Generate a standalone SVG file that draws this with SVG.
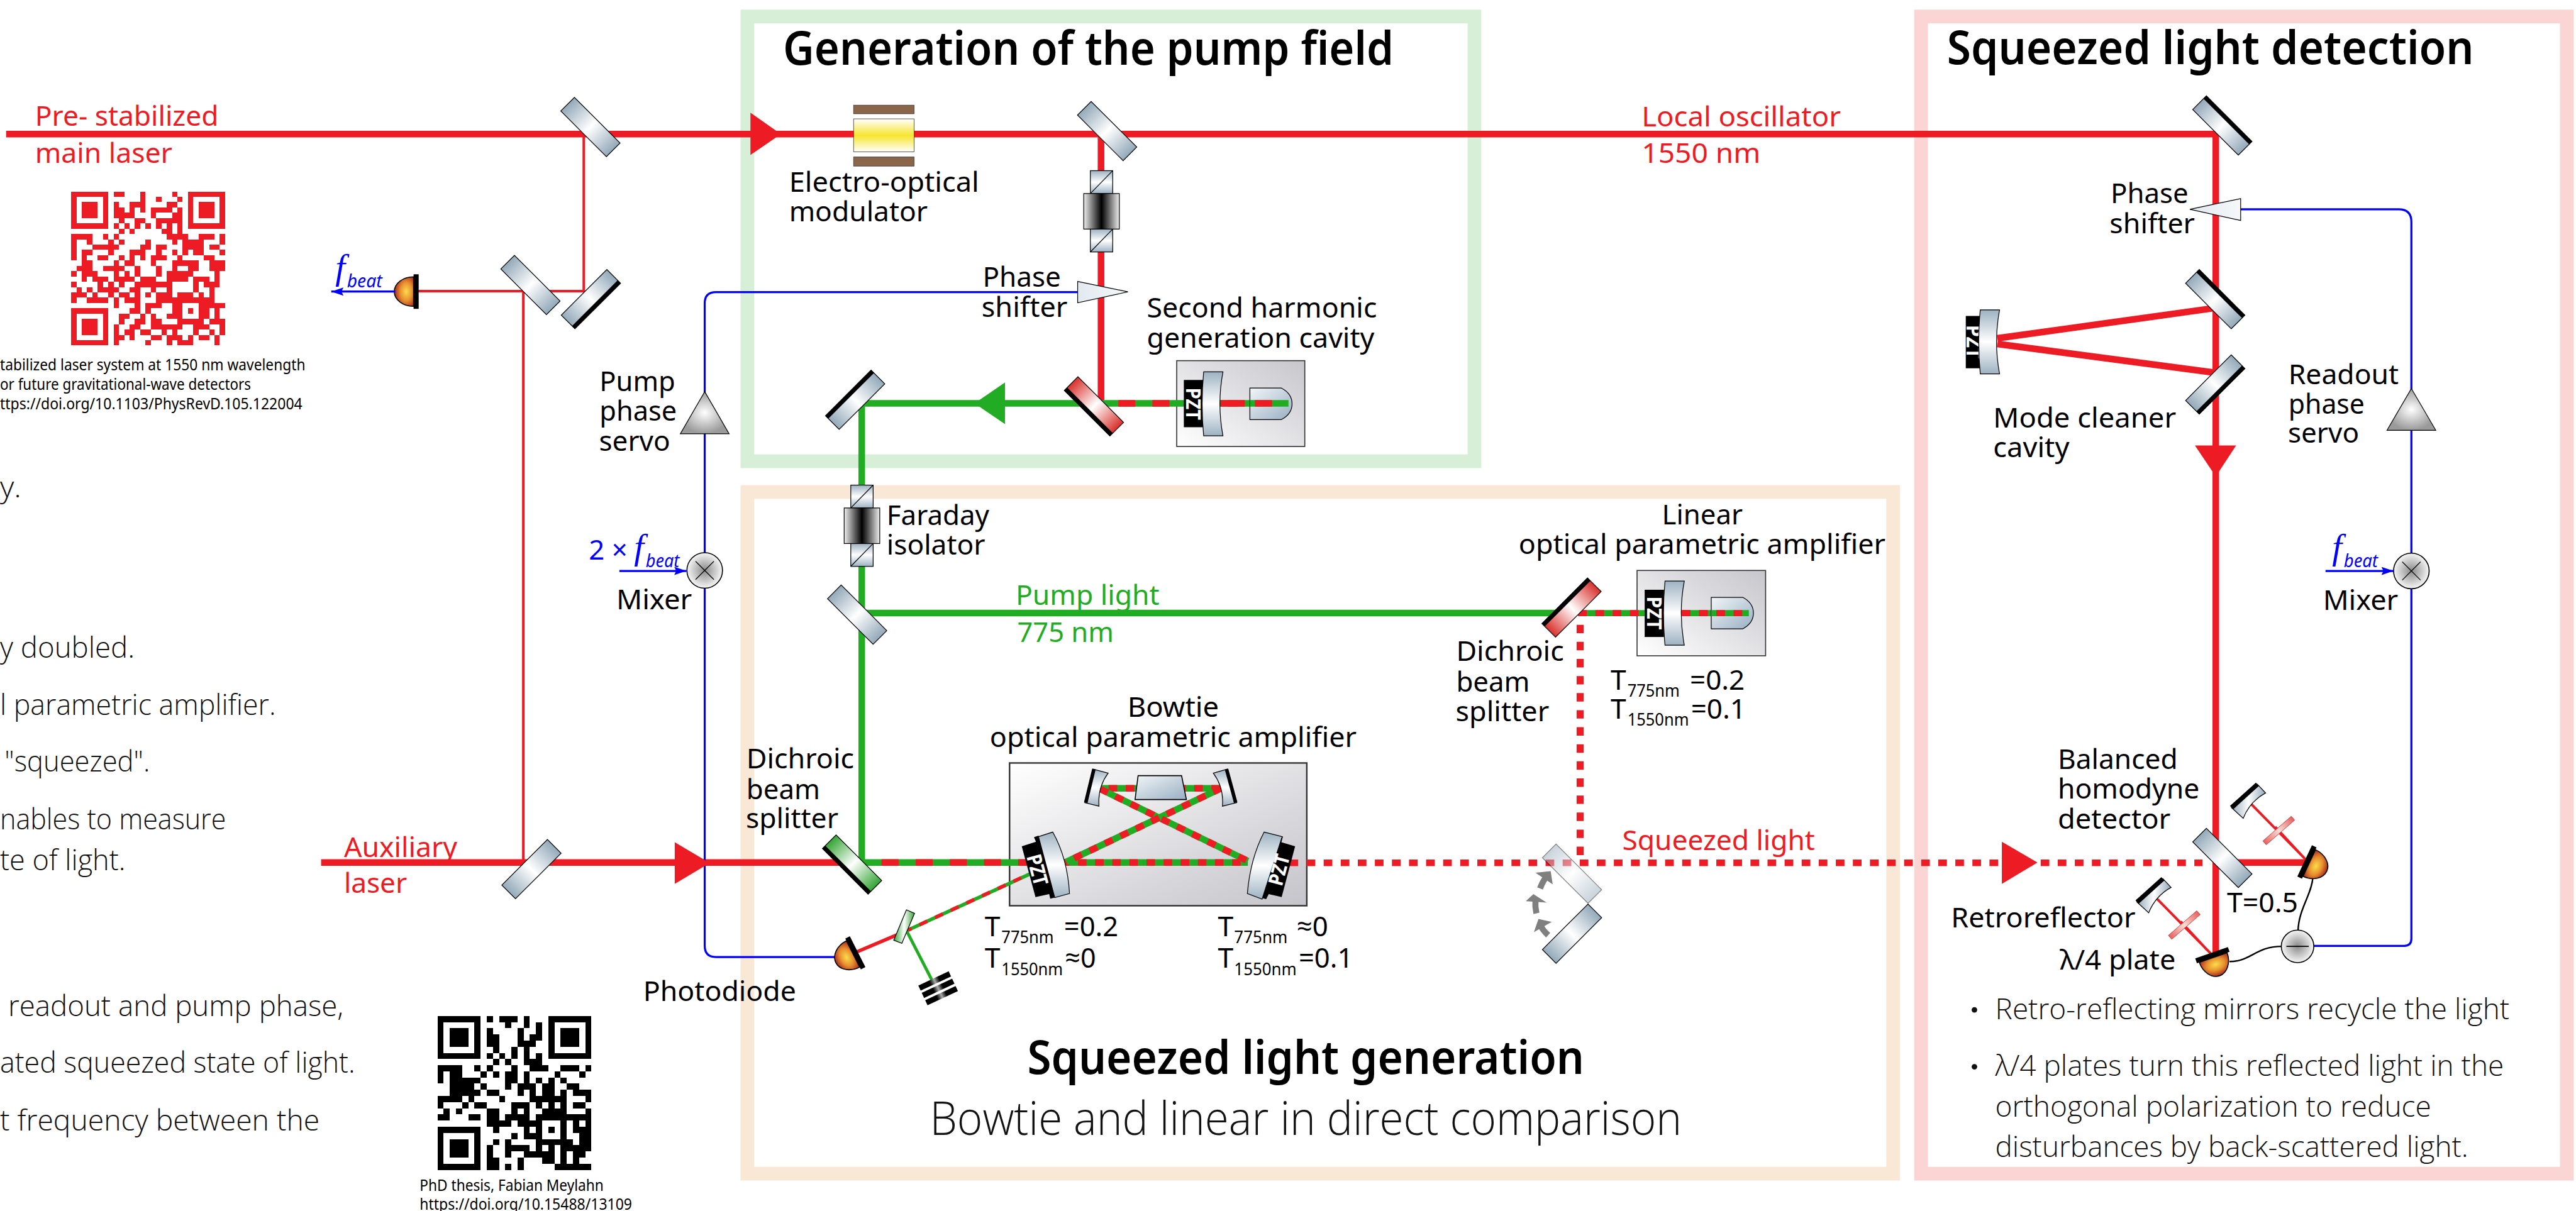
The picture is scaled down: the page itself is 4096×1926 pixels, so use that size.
<svg xmlns="http://www.w3.org/2000/svg" xmlns:xlink="http://www.w3.org/1999/xlink" width="4096" height="1926" viewBox="0 0 4096 1926">
<style>
text{font-family:"Noto Sans","Open Sans",sans-serif;font-size:55px;fill:#000;white-space:pre}
.rd{fill:#ed1c24}.bl{fill:#00f}.gn{fill:#22ac23}
.tt{font-size:91px;font-weight:600}
.lt{font-family:"Open Sans","Noto Sans",sans-serif;font-size:58px;font-weight:300;fill:#111}
.sm{font-size:31px}.sb{font-size:33px}
.pz{font-size:40px;font-weight:700;fill:#fff;text-anchor:middle}
.ff{font-family:"Liberation Serif",serif;font-style:italic;font-size:70px;fill:#00f}
.bt{font-style:italic;font-size:37px;fill:#00f}
.br{fill:none;stroke-linecap:butt}
.R{stroke:#ed1c24;stroke-width:13}.G{stroke:#22ac23;stroke-width:13}
.Rt{stroke:#ed1c24;stroke-width:5}.Gt{stroke:#22ac23;stroke-width:6}
.B{stroke:#00f;stroke-width:4;fill:none}
.ol{stroke:#000;stroke-width:1.5}
.frame{fill:none;stroke-width:27}
.qr{fill:none;stroke-width:1;shape-rendering:crispEdges}
.w{stroke:#000;stroke-width:3;fill:none}
</style>
<defs>
<linearGradient id="gM"><stop offset="0" stop-color="#93a9b9"/><stop offset=".5" stop-color="#fff"/><stop offset="1" stop-color="#93a9b9"/></linearGradient>
<linearGradient id="gMr"><stop offset="0" stop-color="#d8312c"/><stop offset=".5" stop-color="#fff"/><stop offset="1" stop-color="#d8312c"/></linearGradient>
<linearGradient id="gMg"><stop offset="0" stop-color="#35a535"/><stop offset=".5" stop-color="#fff"/><stop offset="1" stop-color="#35a535"/></linearGradient>
<linearGradient id="gC" x1="0" y1="0" x2="0" y2="1"><stop offset="0" stop-color="#9db2c2"/><stop offset=".5" stop-color="#fff"/><stop offset="1" stop-color="#9db2c2"/></linearGradient>
<linearGradient id="gX" x1="0" y1="0" x2="1" y2="1"><stop offset="0" stop-color="#f2f6f8"/><stop offset="1" stop-color="#98afc3"/></linearGradient>
<linearGradient id="gB1" x1="0" y1="1" x2="1" y2="0"><stop offset="0" stop-color="#fff"/><stop offset="1" stop-color="#c6c6cc"/></linearGradient>
<linearGradient id="gB2" x1="0" y1="0" x2="1" y2="1"><stop offset="0" stop-color="#fff"/><stop offset="1" stop-color="#c4c4ca"/></linearGradient>
<linearGradient id="gF"><stop offset="0" stop-color="#eee"/><stop offset=".5" stop-color="#000"/><stop offset="1" stop-color="#eee"/></linearGradient>
<linearGradient id="gE" x1="0" y1="0" x2="0" y2="1"><stop offset="0" stop-color="#fff"/><stop offset=".5" stop-color="#f6e52f"/><stop offset="1" stop-color="#fff"/></linearGradient>
<linearGradient id="gP"><stop offset="0" stop-color="#e9605f"/><stop offset=".5" stop-color="#fbdcd6"/><stop offset="1" stop-color="#e9605f"/></linearGradient>
<linearGradient id="gS"><stop offset="0" stop-color="#e2e9ef"/><stop offset="1" stop-color="#f6f8fa"/></linearGradient>
<linearGradient id="gD"><stop offset="0" stop-color="#000"/><stop offset=".35" stop-color="#000"/><stop offset=".5" stop-color="#aaa"/><stop offset=".65" stop-color="#000"/><stop offset="1" stop-color="#000"/></linearGradient>
<radialGradient id="gT"><stop offset="0" stop-color="#fff"/><stop offset="1" stop-color="#9a9a9a"/></radialGradient>
<radialGradient id="gO"><stop offset="0" stop-color="#8a8a8a"/><stop offset="1" stop-color="#f6f6f6"/></radialGradient>
<radialGradient id="gPD" cx=".62" cy=".5" r=".62"><stop offset="0" stop-color="#fbdc4c"/><stop offset=".5" stop-color="#e8912f"/><stop offset="1" stop-color="#a5241c"/></radialGradient>
<marker id="ah" markerUnits="userSpaceOnUse" markerWidth="26" markerHeight="20" refX="24" refY="10" orient="auto"><path d="M0 2L24 10L0 18L4 10Z" fill="#00f"/></marker>
<g id="mP"><rect x="-63.5" y="-19" width="127" height="38" fill="url(#gM)" stroke="#000" stroke-width="1.5"/></g>
<g id="mH"><rect x="-63.5" y="-19" width="127" height="38" fill="url(#gM)" stroke="#000" stroke-width="1.5"/><rect x="-63.5" y="-19" width="127" height="8"/></g>
<g id="mR"><rect x="-63.5" y="-19" width="127" height="38" fill="url(#gMr)" stroke="#000" stroke-width="1.5"/><rect x="-63.5" y="-19" width="127" height="8"/></g>
<g id="mG"><rect x="-63.5" y="-19" width="127" height="38" fill="url(#gMg)" stroke="#000" stroke-width="1.5"/><rect x="-63.5" y="-19" width="127" height="8"/></g>
<path id="cm" d="M-19-63H19Q7 0 19 63H-19Q-25 0-19-63Z" fill="url(#gC)" stroke="#000" stroke-width="1.5"/>
<path id="xt" d="M0-31H62Q83-20 83 0Q83 20 62 31H0Z" fill="url(#gX)" stroke="#000" stroke-width="1.5"/>
<g id="fi"><rect x="-22" y="-80" width="44" height="45" fill="url(#gC)" class="ol"/><path d="M-22-35L22-80" class="ol"/><rect x="-22" y="35" width="44" height="45" fill="url(#gC)" class="ol"/><path d="M-22 80L22 35" class="ol"/><rect x="-35" y="-35" width="70" height="70" fill="url(#gF)" class="ol"/></g>
<g id="pd"><path d="M0-29A38 29 0 0 0 0 29Z" fill="url(#gPD)" stroke="#000" stroke-width="2"/><rect x="0" y="-34" width="10" height="68"/></g>
<g id="mx"><circle r="35" fill="url(#gO)" stroke="#000" stroke-width="2"/><path d="M-18-18L18 18M18-18L-18 18" stroke="#000" stroke-width="1.5"/></g>
<g id="retro"><path d="M4392 1590L4443 1544L4459 1561Q4428 1578 4415 1611Z" fill="url(#gM)" class="ol"/><path d="M4392 1590L4443 1544" stroke="#000" stroke-width="9"/></g>
<g id="rtb"><path d="M4430 1582L4540 1694M4478 1628L4530 1684" fill="none" stroke="#ed1c24" stroke-width="5"/></g>
<rect id="pl" x="-37" y="-5" width="74" height="10" fill="url(#gP)" stroke="#b33" stroke-width="1"/>
</defs>
<rect width="4096" height="1926" fill="#fff"/>
<g transform="scale(.80789)">

<g id="frames">
<rect class="frame" x="1471" y="32.5" width="1431" height="875.5" stroke="#d7efd7"/>
<rect class="frame" x="1471" y="968.5" width="2255" height="1342" stroke="#fae8d7"/>
<rect class="frame" x="3781" y="32.5" width="1271" height="2278" stroke="#fbd4d4"/>
</g>

<g id="cavity-bases">
<rect x="2316" y="710" width="252" height="169" fill="url(#gB1)" stroke="#333" stroke-width="2"/>
<rect x="3222" y="1123" width="253" height="168" fill="url(#gB1)" stroke="#333" stroke-width="2"/>
<rect x="1987" y="1502" width="585" height="281" fill="url(#gB2)" stroke="#333" stroke-width="3"/>
</g>

<g id="connectors" class="br">
<path class="R" d="M12 264H4361V1890"/>
<path class="Rt" d="M1149 264V573H821M1030 573V1698"/>
<path class="R" d="M632 1698H1700"/>
<path class="R" d="M2167 264V794"/>
<path class="G" d="M2167 794H1696V1698"/>
<path class="G" d="M1694 1207H3093"/>
<path class="G" d="M2167 794H2536" />
<path class="R" stroke-dasharray="33.5 33.5" d="M2201 794H2536"/>
<path class="G" d="M1696 1698H2096H2456"/>
<path class="R" stroke-dasharray="33.6 33.6" d="M1735 1698H2060"/>
<path class="R" stroke-dasharray="16.8 16.9" d="M2088 1698H2456"/>
<path class="G" d="M2165 1552H2403"/>
<path class="R" stroke-dasharray="16.8 16.9" d="M2182 1552H2403"/>
<path class="G" d="M2165 1553L2456 1695"/>
<path class="G" d="M2403 1552L2096 1698"/>
<path class="R" stroke-dasharray="16.8 16.9" d="M2165 1553L2456 1695"/>
<path class="R" stroke-dasharray="16.8 16.9" d="M2403 1552L2096 1698"/>
<path class="G" style="stroke-width:7" d="M2028 1720L1785 1832"/>
<path class="R" style="stroke-width:7" stroke-dasharray="17 17" d="M2010 1728L1785 1832"/>
<path style="stroke:#ed1c24;stroke-width:7" d="M1785 1832L1686 1874"/>
<path class="Gt" d="M1780 1824L1835 1931"/>
<path class="G" style="stroke-width:12" d="M3106 1207H3442"/>
<path class="R" style="stroke-width:12" stroke-dasharray="17 17" d="M3106 1207H3442"/>
<path class="R" stroke-dasharray="17 16.6" d="M2538 1698.5H4335"/>
<path class="R" stroke-dasharray="16.6 17" style="stroke-width:14" d="M3110 1230V1699"/>
<path class="R" d="M4361 1698H4543"/>
<path class="R" d="M3931 666L4355 607M3931 677L4355 733"/>
<use href="#rtb"/><use href="#rtb" transform="translate(-186 186)"/>
<path class="B" d="M2121 575H1409Q1387 575 1387 597V1862Q1387 1884 1409 1884H1643"/>
<path class="B" d="M4410 412H4721Q4746 412 4746 437V1848Q4746 1862 4732 1862H4554"/>
<path class="w" d="M4552 1728C4550 1760 4524 1790 4523 1832"/>
<path class="w" d="M4388 1893C4430 1893 4440 1863 4491 1863"/>
</g>

<g id="arrows">
<polygon points="1477,222 1537,264 1477,305" fill="#ed1c24"/>
<polygon points="1328,1658 1397,1699 1328,1740" fill="#ed1c24"/>
<polygon points="3940,1657 4010,1698 3940,1740" fill="#ed1c24"/>
<polygon points="4320,877 4401,877 4361,938" fill="#ed1c24"/>
<polygon points="1978,753 1918,794 1978,835" fill="#22ac23"/>
</g>

<g id="pre-stabilized-laser"><text class="rd" x="69" y="248" textLength="361" lengthAdjust="spacingAndGlyphs">Pre- stabilized</text><text class="rd" x="69" y="320" textLength="270" lengthAdjust="spacingAndGlyphs">main laser</text></g>
<g id="local-oscillator"><text class="rd" x="3231" y="249" textLength="392" lengthAdjust="spacingAndGlyphs">Local oscillator</text><text class="rd" x="3231" y="320" textLength="234" lengthAdjust="spacingAndGlyphs">1550 nm</text></g>
<g id="auxiliary-laser"><text class="rd" x="677" y="1687" textLength="223" lengthAdjust="spacingAndGlyphs">Auxiliary</text><text class="rd" x="677" y="1758" textLength="124" lengthAdjust="spacingAndGlyphs">laser</text></g>
<g id="pump-light"><text class="gn" x="1999" y="1191" textLength="283" lengthAdjust="spacingAndGlyphs">Pump light</text><text class="gn" x="2002" y="1264" textLength="190" lengthAdjust="spacingAndGlyphs">775 nm</text></g>
<g id="squeezed-light"><text class="rd" x="3193" y="1674" textLength="379" lengthAdjust="spacingAndGlyphs">Squeezed light</text></g>

<g id="qr-red">
<g transform="translate(140 377) scale(10.45)">
<path fill="#ed1c24" fill-rule="evenodd" shape-rendering="crispEdges" d="M0 0h7v7h-7zM1 1h5v5h-5zM2 2h3v3h-3zM22 0h7v7h-7zM23 1h5v5h-5zM24 2h3v3h-3zM0 22h7v7h-7zM1 23h5v5h-5zM2 24h3v3h-3z"/>
<path class="qr" stroke="#ed1c24" d="M8 .5h2M13 .5h1M19 .5h1M13 1.5h1M16 1.5h1M20 1.5h1M8 2.5h1M11 2.5h3M18 2.5h2M8 3.5h2M11 3.5h1M13 3.5h1M15 3.5h4M20 3.5h1M8 4.5h4M15 4.5h1M19 4.5h2M9 5.5h1M12 5.5h2M16 5.5h5M8 6.5h1M10 6.5h1M12 6.5h1M14 6.5h1M16 6.5h1M18 6.5h1M20 6.5h1M9 7.5h1M11 7.5h1M17 7.5h2M20 7.5h1M0 8.5h4M6 8.5h1M8 8.5h1M18 8.5h4M24 8.5h3M28 8.5h1M0 9.5h1M3 9.5h1M7 9.5h1M9 9.5h1M14 9.5h1M19 9.5h1M21 9.5h4M28 9.5h1M0 10.5h1M4 10.5h5M13 10.5h2M16 10.5h2M21 10.5h4M26 10.5h2M0 11.5h1M2 11.5h2M7 11.5h1M11 11.5h3M16 11.5h1M19 11.5h1M21 11.5h1M23 11.5h2M28 11.5h1M0 12.5h1M2 12.5h1M5 12.5h2M9 12.5h1M11 12.5h1M13 12.5h1M15 12.5h3M20 12.5h1M25 12.5h2M2 13.5h2M8 13.5h1M10 13.5h2M15 13.5h1M19 13.5h5M26 13.5h3M1 14.5h3M6 14.5h4M12 14.5h1M16 14.5h1M19 14.5h1M22 14.5h2M26 14.5h3M0 15.5h1M2 15.5h3M8 15.5h1M10 15.5h1M12 15.5h1M16 15.5h1M18 15.5h5M27 15.5h1M2 16.5h1M4 16.5h3M8 16.5h4M13 16.5h3M18 16.5h4M23 16.5h3M27 16.5h1M0 17.5h1M5 17.5h1M7 17.5h1M9 17.5h1M12 17.5h7M23 17.5h1M25 17.5h3M1 18.5h1M3 18.5h1M5 18.5h4M11 18.5h2M15 18.5h1M18 18.5h1M23 18.5h1M26 18.5h1M0 19.5h3M4 19.5h1M7 19.5h1M9 19.5h2M12 19.5h1M14 19.5h1M16 19.5h3M20 19.5h3M24 19.5h1M26 19.5h1M0 20.5h1M3 20.5h4M8 20.5h1M10 20.5h3M16 20.5h11M8 21.5h1M12 21.5h1M14 21.5h3M19 21.5h2M24 21.5h5M11 22.5h2M14 22.5h1M19 22.5h2M22 22.5h1M24 22.5h2M27 22.5h1M9 23.5h2M13 23.5h1M15 23.5h1M18 23.5h3M24 23.5h2M27 23.5h1M9 24.5h1M12 24.5h2M15 24.5h2M20 24.5h5M26 24.5h3M8 25.5h1M11 25.5h2M15 25.5h6M23 25.5h3M28 25.5h1M8 26.5h1M10 26.5h2M13 26.5h2M17 26.5h1M19 26.5h1M23 26.5h1M26 26.5h1M28 26.5h1M8 27.5h2M11 27.5h1M15 27.5h2M18 27.5h3M22 27.5h1M24 27.5h2M27 27.5h1M8 28.5h1M14 28.5h1M18 28.5h1M20 28.5h3M27 28.5h1"/>
</g>
<text class="sm" x="0" y="729" textLength="601" lengthAdjust="spacingAndGlyphs">tabilized laser system at 1550 nm wavelength</text>
<text class="sm" x="0" y="767" textLength="494" lengthAdjust="spacingAndGlyphs">or future gravitational-wave detectors</text>
<text class="sm" x="0" y="806" textLength="595" lengthAdjust="spacingAndGlyphs">ttps://doi.org/10.1103/PhysRevD.105.122004</text>
</g>

<g id="qr-black">
<g transform="translate(861 2000) scale(12.12)">
<path fill="#000" fill-rule="evenodd" shape-rendering="crispEdges" d="M0 0h7v7h-7zM1 1h5v5h-5zM2 2h3v3h-3zM18 0h7v7h-7zM19 1h5v5h-5zM20 2h3v3h-3zM0 18h7v7h-7zM1 19h5v5h-5zM2 20h3v3h-3z"/>
<path class="qr" stroke="#000" d="M8 .5h1M10 .5h3M14 .5h1M11 1.5h1M14 1.5h1M16 1.5h1M8 2.5h1M13 2.5h1M16 2.5h1M8 3.5h2M13 3.5h1M15 3.5h2M8 4.5h2M13 4.5h3M9 5.5h1M12 5.5h1M14 5.5h1M8 6.5h1M10 6.5h1M12 6.5h1M14 6.5h1M16 6.5h1M9 7.5h1M11 7.5h1M14 7.5h3M0 8.5h4M6 8.5h1M8 8.5h1M12 8.5h1M15 8.5h3M20 8.5h3M24 8.5h1M0 9.5h1M2 9.5h2M7 9.5h1M9 9.5h1M11 9.5h2M14 9.5h1M19 9.5h1M23 9.5h1M0 10.5h1M2 10.5h5M11 10.5h2M14 10.5h1M16 10.5h1M18 10.5h1M20 10.5h1M2 11.5h4M7 11.5h1M11 11.5h1M13 11.5h3M17 11.5h2M21 11.5h2M2 12.5h5M8 12.5h2M13 12.5h1M15 12.5h1M17 12.5h2M20 12.5h1M22 12.5h3M0 13.5h4M5 13.5h1M10 13.5h1M15 13.5h6M24 13.5h1M0 14.5h1M4 14.5h1M6 14.5h2M12 14.5h3M16 14.5h1M18 14.5h1M20 14.5h1M22 14.5h2M1 15.5h1M3 15.5h1M8 15.5h2M12 15.5h1M14 15.5h1M17 15.5h4M24 15.5h1M0 16.5h2M5 16.5h2M8 16.5h2M11 16.5h4M16 16.5h9M8 17.5h4M13 17.5h4M20 17.5h1M22 17.5h1M24 17.5h1M9 18.5h1M14 18.5h1M16 18.5h1M18 18.5h1M20 18.5h1M22 18.5h3M12 19.5h1M14 19.5h3M20 19.5h1M23 19.5h2M9 20.5h1M11 20.5h1M16 20.5h6M23 20.5h2M8 21.5h1M11 21.5h4M16 21.5h1M18 21.5h1M20 21.5h5M8 22.5h1M11 22.5h1M14 22.5h5M20 22.5h1M22 22.5h2M8 23.5h2M13 23.5h1M17 23.5h2M20 23.5h1M22 23.5h1M8 24.5h2M11 24.5h1M13 24.5h1M19 24.5h6"/>
</g>
<text class="sm" x="826" y="2345" textLength="362" lengthAdjust="spacingAndGlyphs">PhD thesis, Fabian Meylahn</text>
<text class="sm" x="826" y="2381" textLength="418" lengthAdjust="spacingAndGlyphs">https://doi.org/10.15488/13109</text>
</g>

<g id="left-notes">
<text class="lt" x="0" y="979" textLength="42" lengthAdjust="spacingAndGlyphs">y.</text>
<text class="lt" x="0" y="1295" textLength="265" lengthAdjust="spacingAndGlyphs">y doubled.</text>
<text class="lt" x="0" y="1408" textLength="543" lengthAdjust="spacingAndGlyphs">l parametric amplifier.</text>
<text class="lt" x="9" y="1519" textLength="286" lengthAdjust="spacingAndGlyphs">"squeezed".</text>
<text class="lt" x="0" y="1633" textLength="445" lengthAdjust="spacingAndGlyphs">nables to measure</text>
<text class="lt" x="0" y="1713" textLength="247" lengthAdjust="spacingAndGlyphs">te of light.</text>
<text class="lt" x="16" y="2000" textLength="660" lengthAdjust="spacingAndGlyphs">readout and pump phase,</text>
<text class="lt" x="0" y="2112" textLength="699" lengthAdjust="spacingAndGlyphs">ated squeezed state of light.</text>
<text class="lt" x="0" y="2225" textLength="629" lengthAdjust="spacingAndGlyphs">t frequency between the</text>
</g>

<g id="titles">
<text class="tt" x="1541" y="127" textLength="1202" lengthAdjust="spacingAndGlyphs">Generation of the pump field</text>
<text class="tt" x="3832" y="126" textLength="1037" lengthAdjust="spacingAndGlyphs">Squeezed light detection</text>
<text class="tt" x="2022" y="2114" textLength="1096" lengthAdjust="spacingAndGlyphs">Squeezed light generation</text>
<text class="lt" style="font-size:91px" x="1830" y="2234" textLength="1480" lengthAdjust="spacingAndGlyphs">Bowtie and linear in direct comparison</text>
</g>

<g id="pickoff-optics">
<use href="#mP" transform="translate(1162 250) rotate(45)"/>
<use href="#mP" transform="translate(1044 561) rotate(45)"/>
<use href="#mH" transform="translate(1163 589) rotate(135)"/>
<use href="#mP" transform="translate(1046 1711) rotate(-45)"/>
</g>

<g id="beat-photodiode">
<use href="#pd" transform="translate(814 574)"/>
<path class="B" d="M778 574H652" marker-end="url(#ah)"/>
<text class="ff" x="660" y="549">f</text>
<text class="bt" x="683" y="566" textLength="69" lengthAdjust="spacingAndGlyphs">beat</text>
</g>

<g id="eom">
<rect x="1680" y="207" width="119" height="17" fill="#8a6549" stroke="#333" stroke-width="1"/>
<rect x="1680" y="234" width="119" height="65" fill="url(#gE)" stroke="#333" stroke-width="1"/>
<rect x="1680" y="309" width="119" height="18" fill="#8a6549" stroke="#333" stroke-width="1"/>
<text x="1553" y="377" textLength="374" lengthAdjust="spacingAndGlyphs">Electro-optical</text>
<text x="1553" y="436" textLength="273" lengthAdjust="spacingAndGlyphs">modulator</text>
</g>

<g id="shg-path">
<use href="#mP" transform="translate(2179 258) rotate(45)"/>
<use href="#fi" transform="translate(2168 416)"/>
<polygon points="2121,554 2220,574.5 2121,596" fill="url(#gS)" class="ol"/>
<text x="1934" y="565" textLength="154" lengthAdjust="spacingAndGlyphs">Phase</text>
<text x="1932" y="624" textLength="169" lengthAdjust="spacingAndGlyphs">shifter</text>
<use href="#mR" transform="translate(2153 800) rotate(225)"/>
<use href="#mH" transform="translate(1683 787) rotate(-45)"/>
</g>

<g id="shg-cavity">
<rect x="2330" y="748" width="38" height="93"/>
<text class="pz" transform="translate(2335 795) rotate(90)" textLength="64" lengthAdjust="spacingAndGlyphs">PZT</text>
<use href="#cm" transform="translate(2388 795)"/>
<use href="#xt" transform="translate(2460 795)"/>
<path class="G" d="M2460 794H2536"/><path class="R" stroke-dasharray="33.5 33.5" d="M2470 794H2536"/><path class="R" d="M2416 794H2450"/>
<text x="2257" y="625" textLength="453" lengthAdjust="spacingAndGlyphs">Second harmonic</text>
<text x="2257" y="684" textLength="448" lengthAdjust="spacingAndGlyphs">generation cavity</text>
</g>

<g id="pump-servo">
<polygon points="1387,771 1435,854 1339,854" fill="url(#gT)" class="ol"/>
<text x="1180" y="770" textLength="149" lengthAdjust="spacingAndGlyphs">Pump</text>
<text x="1180" y="828" textLength="152" lengthAdjust="spacingAndGlyphs">phase</text>
<text x="1179" y="887" textLength="140" lengthAdjust="spacingAndGlyphs">servo</text>
</g>

<g id="pump-mixer">
<use href="#mx" transform="translate(1387 1123)"/>
<path class="B" d="M1219 1124H1351" marker-end="url(#ah)"/>
<text class="bl" x="1159" y="1102" textLength="76" lengthAdjust="spacingAndGlyphs" xml:space="preserve">2 ×</text>
<text class="ff" x="1248" y="1100">f</text>
<text class="bt" x="1271" y="1117" textLength="66" lengthAdjust="spacingAndGlyphs">beat</text>
<text x="1213" y="1200" textLength="149" lengthAdjust="spacingAndGlyphs">Mixer</text>
</g>

<g id="faraday-isolator">
<use href="#fi" transform="translate(1696.5 1035)"/>
<text x="1745" y="1033" textLength="202" lengthAdjust="spacingAndGlyphs">Faraday</text>
<text x="1745" y="1092" textLength="194" lengthAdjust="spacingAndGlyphs">isolator</text>
</g>

<g id="pump-pickoff"><use href="#mP" transform="translate(1687 1210) rotate(45)"/></g>

<g id="dichroic-bowtie">
<use href="#mG" transform="translate(1677 1702) rotate(225)"/>
<text x="1469" y="1513" textLength="212" lengthAdjust="spacingAndGlyphs">Dichroic</text>
<text x="1469" y="1573" textLength="145" lengthAdjust="spacingAndGlyphs">beam</text>
<text x="1468" y="1630" textLength="182" lengthAdjust="spacingAndGlyphs">splitter</text>
</g>

<g id="bowtie-opa">
<path d="M2151 1514L2181 1522Q2160 1550 2163 1587L2135 1580Z" fill="url(#gC)" class="ol"/>
<path d="M2153 1514L2137 1580" stroke="#000" stroke-width="7"/>
<path d="M2416 1514L2388 1522Q2409 1550 2406 1587L2434 1580Z" fill="url(#gC)" class="ol"/>
<path d="M2414 1514L2432 1580" stroke="#000" stroke-width="7"/>
<polygon points="2240,1527 2325.5,1527 2335,1574 2234,1574" fill="url(#gX)" stroke="#000" stroke-width="2"/>
<polygon points="2035,1648 2044,1645 2076,1767 2067,1769 2065,1760 2038,1766 2011,1666 2039,1657"/>
<path d="M2044 1647L2072 1638Q2101 1690 2105 1759L2076 1767Z" fill="url(#gC)" class="ol"/>
<text class="pz" transform="translate(2028 1716) rotate(75)" textLength="62" lengthAdjust="spacingAndGlyphs">PZT</text>
<polygon points="2515,1645 2525,1647 2522,1658 2549,1666 2522.5,1766 2497,1760 2492,1770 2484,1768"/>
<path d="M2488 1638L2523.5 1647L2484 1770L2455 1759Q2461 1690 2488 1638Z" fill="url(#gC)" class="ol"/>
<text class="pz" transform="translate(2531 1716) rotate(-75)" textLength="62" lengthAdjust="spacingAndGlyphs">PZT</text>
<text x="2219" y="1411" textLength="180" lengthAdjust="spacingAndGlyphs">Bowtie</text>
<text x="1948" y="1471" textLength="722" lengthAdjust="spacingAndGlyphs">optical parametric amplifier</text>
<text x="1938" y="1843">T</text><text class="sb" x="1971" y="1857" textLength="103" lengthAdjust="spacingAndGlyphs">775nm</text><text x="2094" y="1843" textLength="107" lengthAdjust="spacingAndGlyphs">=0.2</text>
<text x="1938" y="1905">T</text><text class="sb" x="1971" y="1920" textLength="121" lengthAdjust="spacingAndGlyphs">1550nm</text><text x="2096" y="1905" textLength="61" lengthAdjust="spacingAndGlyphs">≈0</text>
<text x="2397" y="1843">T</text><text class="sb" x="2429" y="1857" textLength="105" lengthAdjust="spacingAndGlyphs">775nm</text><text x="2552" y="1843" textLength="62" lengthAdjust="spacingAndGlyphs">≈0</text>
<text x="2397" y="1905">T</text><text class="sb" x="2429" y="1920" textLength="123" lengthAdjust="spacingAndGlyphs">1550nm</text><text x="2556" y="1905" textLength="107" lengthAdjust="spacingAndGlyphs">=0.1</text>
</g>

<g id="photodiode">
<polygon points="1784,1791 1800,1798 1775,1857 1759,1851" fill="url(#gMg)" class="ol"/>
<use href="#pd" transform="translate(1679 1878) rotate(-26.8)"/>
<g transform="translate(1847 1947) rotate(-25)"><rect x="-33" y="-23" width="66" height="11" fill="url(#gD)"/><rect x="-33" y="-7" width="66" height="11" fill="url(#gD)"/><rect x="-33" y="9" width="66" height="11" fill="url(#gD)"/></g>
<text x="1266" y="1970" textLength="301" lengthAdjust="spacingAndGlyphs">Photodiode</text>
</g>

<g id="linear-opa">
<use href="#mR" transform="translate(3093 1196) rotate(-45)"/>
<rect x="3237" y="1161" width="38" height="93"/>
<text class="pz" transform="translate(3242 1207) rotate(90)" textLength="66" lengthAdjust="spacingAndGlyphs">PZT</text>
<use href="#cm" transform="translate(3296 1207)"/>
<use href="#xt" transform="translate(3368 1207)"/>
<path class="G" style="stroke-width:12" d="M3368 1207H3442"/>
<path class="R" style="stroke-width:12" stroke-dasharray="17 17" d="M3378 1207H3442"/>
<path class="R" style="stroke-width:12" stroke-dasharray="17 17" d="M3310 1207H3368"/>
<text x="3271" y="1032" textLength="159" lengthAdjust="spacingAndGlyphs">Linear</text>
<text x="2989" y="1091" textLength="722" lengthAdjust="spacingAndGlyphs">optical parametric amplifier</text>
<text x="2866" y="1301" textLength="212" lengthAdjust="spacingAndGlyphs">Dichroic</text>
<text x="2866" y="1361" textLength="145" lengthAdjust="spacingAndGlyphs">beam</text>
<text x="2865" y="1420" textLength="184" lengthAdjust="spacingAndGlyphs">splitter</text>
<text x="3170" y="1358">T</text><text class="sb" x="3203" y="1372" textLength="103" lengthAdjust="spacingAndGlyphs">775nm</text><text x="3326" y="1358" textLength="108" lengthAdjust="spacingAndGlyphs">=0.2</text>
<text x="3170" y="1415">T</text><text class="sb" x="3203" y="1429" textLength="121" lengthAdjust="spacingAndGlyphs">1550nm</text><text x="3328" y="1415" textLength="108" lengthAdjust="spacingAndGlyphs">=0.1</text>
</g>

<g id="flip-mirrors">
<use href="#mP" opacity=".5" transform="translate(3094 1720) rotate(45)"/>
<use href="#mP" transform="translate(3094 1838) rotate(-45)"/>
<g fill="#7f7f7f">
<path d="M3047 1841Q3035 1830 3030 1818" fill="none" stroke="#7f7f7f" stroke-width="12"/><polygon points="3028,1809 3019,1835 3054,1815"/>
<path d="M3024 1798Q3021 1785 3022 1772" fill="none" stroke="#7f7f7f" stroke-width="12"/><polygon points="3018,1760 3003,1774 3044,1777"/>
<path d="M3031 1749Q3035 1738 3041 1729" fill="none" stroke="#7f7f7f" stroke-width="12"/><polygon points="3052,1715 3022,1718 3056,1741"/>
</g>
</g>

<g id="detection-lo-optics">
<use href="#mH" transform="translate(4374 247) rotate(45)"/>
<polygon points="4410,391 4310,412 4410,434" fill="url(#gS)" class="ol"/>
<text x="4154" y="400" textLength="153" lengthAdjust="spacingAndGlyphs">Phase</text>
<text x="4152" y="459" textLength="168" lengthAdjust="spacingAndGlyphs">shifter</text>
</g>

<g id="mode-cleaner">
<use href="#mH" transform="translate(4360 589) rotate(45)"/>
<use href="#mH" transform="translate(4360 757) rotate(135)"/>
<rect x="3869" y="622" width="30" height="103"/>
<text class="pz" transform="translate(3871 673) rotate(90)" textLength="66" lengthAdjust="spacingAndGlyphs">PZT</text>
<use href="#cm" transform="translate(3916.5 673)"/>
<text x="3923" y="842" textLength="360" lengthAdjust="spacingAndGlyphs">Mode cleaner</text>
<text x="3923" y="900" textLength="150" lengthAdjust="spacingAndGlyphs">cavity</text>
</g>

<g id="readout-servo">
<polygon points="4746,765 4794,847 4698,847" fill="url(#gT)" class="ol"/>
<text x="4504" y="756" textLength="217" lengthAdjust="spacingAndGlyphs">Readout</text>
<text x="4504" y="814" textLength="150" lengthAdjust="spacingAndGlyphs">phase</text>
<text x="4503" y="872" textLength="140" lengthAdjust="spacingAndGlyphs">servo</text>
</g>

<g id="readout-mixer">
<use href="#mx" transform="translate(4746 1124)"/>
<path class="B" d="M4577 1124H4711" marker-end="url(#ah)"/>
<text class="ff" x="4590" y="1101">f</text>
<text class="bt" x="4613" y="1116" textLength="67" lengthAdjust="spacingAndGlyphs">beat</text>
<text x="4572" y="1201" textLength="148" lengthAdjust="spacingAndGlyphs">Mixer</text>
</g>

<g id="balanced-homodyne-detector">
<use href="#mP" transform="translate(4374 1689) rotate(45)"/>
<use href="#retro"/>
<use href="#retro" transform="translate(-186 186)"/>
<use href="#pl" transform="translate(4485 1635) rotate(-41)"/>
<use href="#pl" transform="translate(4299 1821) rotate(-41)"/>
<use href="#pd" transform="translate(4545 1699) rotate(205)"/>
<use href="#pd" transform="translate(4356 1885) rotate(250.8)"/>
<circle cx="4522" cy="1863" r="32" fill="url(#gO)" stroke="#000" stroke-width="2"/>
<path d="M4500 1863H4544" stroke="#000" stroke-width="2"/>
<text x="4050" y="1514" textLength="236" lengthAdjust="spacingAndGlyphs">Balanced</text>
<text x="4050" y="1572" textLength="279" lengthAdjust="spacingAndGlyphs">homodyne</text>
<text x="4050" y="1631" textLength="222" lengthAdjust="spacingAndGlyphs">detector</text>
<text x="4383" y="1796" textLength="140" lengthAdjust="spacingAndGlyphs">T=0.5</text>
<text x="3840" y="1826" textLength="363" lengthAdjust="spacingAndGlyphs">Retroreflector</text>
<text x="4054" y="1909" textLength="228" lengthAdjust="spacingAndGlyphs">λ/4 plate</text>
</g>

<g id="detection-notes">
<circle cx="3886" cy="1988" r="5.5" fill="#111"/>
<text class="lt" x="3927" y="2006" textLength="1012" lengthAdjust="spacingAndGlyphs">Retro-reflecting mirrors recycle the light</text>
<circle cx="3886" cy="2100" r="5.5" fill="#111"/>
<text class="lt" x="3927" y="2118" textLength="1001" lengthAdjust="spacingAndGlyphs">λ/4 plates turn this reflected light in the</text>
<text class="lt" x="3927" y="2198" textLength="858" lengthAdjust="spacingAndGlyphs">orthogonal polarization to reduce</text>
<text class="lt" x="3927" y="2277" textLength="931" lengthAdjust="spacingAndGlyphs">disturbances by back-scattered light.</text>
</g>
</g>
</svg>
